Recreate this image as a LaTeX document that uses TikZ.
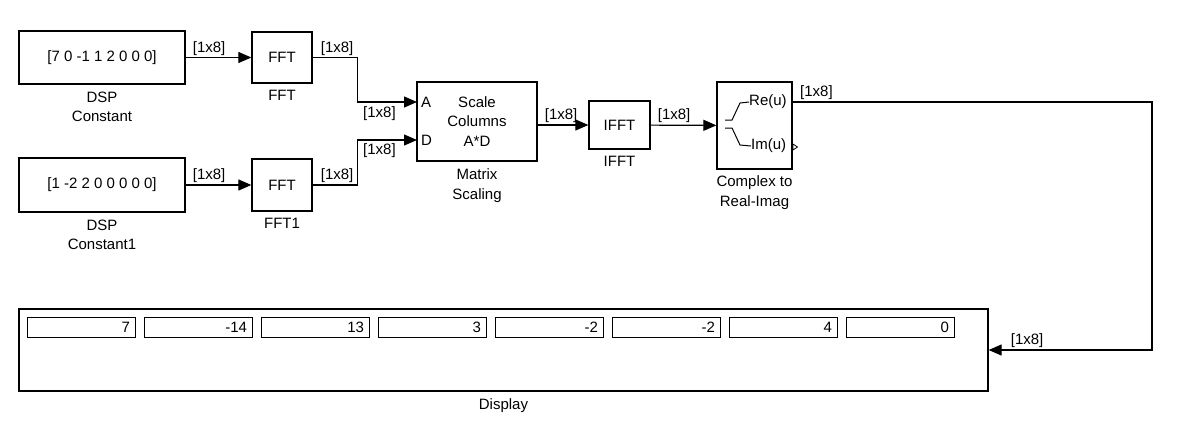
\documentclass[tikz,border=0pt]{standalone}
\usepackage{fontspec}
\setmainfont{Liberation Sans}
\usepackage{tikz}
\usetikzlibrary{positioning}
\usetikzlibrary{arrows.meta}

\begin{document}
\begin{tikzpicture}[x=1pt, y=-1pt,
    every node/.style={font=\fontsize{15}{19.5}\selectfont, inner sep=0pt},
    bloque/.style={draw, line width=1.3pt, rectangle},
    etiqueta/.style={align=center},
    campo/.style={draw, line width=1.2pt, minimum width=108pt, minimum height=20pt, anchor=north west},
    senal/.style={line width=1.2pt, -{Triangle[length=13pt, width=11pt]}}]
  \useasboundingbox (0,0) rectangle (1188,434);

  % Bloques
  \node[bloque, minimum width=166pt, minimum height=53pt] (c1) at (102,57.5) {[7 0 -1 1 2 0 0 0]};
  \node[bloque, minimum width=166pt, minimum height=54pt] (c2) at (102,185) {[1 -2 2 0 0 0 0 0]};
  \node[bloque, minimum width=60pt, minimum height=51pt] (fft1) at (282,57.5) {FFT};
  \node[bloque, minimum width=60pt, minimum height=52pt] (fft2) at (282,185) {FFT};
  \node[bloque, minimum width=120pt, minimum height=79pt, align=center] (ms) at (477,121.5) {Scale\\Columns\\A*D};
  \node[bloque, minimum width=61pt, minimum height=48pt] (ifft) at (619.5,125) {IFFT};
  \node[bloque, minimum width=75pt, minimum height=87pt] (cri) at (754.5,125.5) {};
  \node[bloque, minimum width=969pt, minimum height=82pt] (disp) at (503.5,350) {};

  % Nombres
  \node[etiqueta, below=7pt of c1] {DSP\\Constant};
  \node[etiqueta, below=7pt of c2] {DSP\\Constant1};
  \node[etiqueta, below=6pt of fft1] {FFT};
  \node[etiqueta, below=6pt of fft2] {FFT1};
  \node[etiqueta, below=7pt of ms] {Matrix\\Scaling};
  \node[etiqueta, below=6pt of ifft] {IFFT};
  \node[etiqueta, below=6pt of cri] {Complex to\\Real-Imag};
  \node[etiqueta, below=7pt of disp] {Display};

  % Puertos
  \coordinate (pA) at (417,102);
  \coordinate (pD) at (417,140);
  \coordinate (re) at (792,102);
  \node[anchor=west] at ([xshift=4pt]pA) {A};
  \node[anchor=west] at ([xshift=4pt]pD) {D};
  \node[anchor=west] (reu) at (749,102) {Re(u)};
  \node[anchor=west] (imu) at (751,146) {Im(u)};
  \draw[line width=1pt] (725,120) -- (732,120) -- (740,103) -- (reu.west);
  \draw[line width=1pt] (725,128) -- (732,128) -- (740,145) -- (imu.west);
  \draw[line width=0.8pt] (793,144) -- (797.5,147) -- (793,150) -- cycle;

  % Campos del display
  \foreach \v [count=\i from 0] in {7,-14,13,3,-2,-2,4,0} {
    \node[campo] (f\i) at (27+117*\i,317) {};
    \node[anchor=east] at ([xshift=-6pt]f\i.east) {\v};
  }

  % Senales
  \draw[senal] (c1) -- (fft1);
  \draw[senal] (c2) -- (fft2);
  \draw[senal] (fft1.east) -- ++(45,0) |- (pA);
  \draw[senal] (fft2.east) -- ++(45,0) |- (pD);
  \draw[senal] (ms.east |- ifft.west) -- (ifft.west);
  \draw[senal] (ifft) -- (cri);
  \draw[senal] (re) -- ++(360,0) |- (disp.east);

  % Dimensiones
  \node[anchor=south west] at ([xshift=7pt, yshift=2pt]c1.east) {[1x8]};
  \node[anchor=south west] at ([xshift=7pt, yshift=2pt]c2.east) {[1x8]};
  \node[anchor=south west] at ([xshift=8pt, yshift=2pt]fft1.east) {[1x8]};
  \node[anchor=south west] at ([xshift=8pt, yshift=2pt]fft2.east) {[1x8]};
  \node[anchor=north west] at ([xshift=-54pt, yshift=-4pt]pA) {[1x8]};
  \node[anchor=north west] at ([xshift=-54pt, yshift=-3pt]pD) {[1x8]};
  \node[anchor=south west] at ([xshift=7pt, yshift=2pt]ms.east |- ifft.west) {[1x8]};
  \node[anchor=south west] at ([xshift=7pt, yshift=2pt]ifft.east) {[1x8]};
  \node[anchor=south west] at ([xshift=8pt, yshift=2pt]re) {[1x8]};
  \node[anchor=south west] at ([xshift=22pt, yshift=2pt]disp.east) {[1x8]};
\end{tikzpicture}
\end{document}
